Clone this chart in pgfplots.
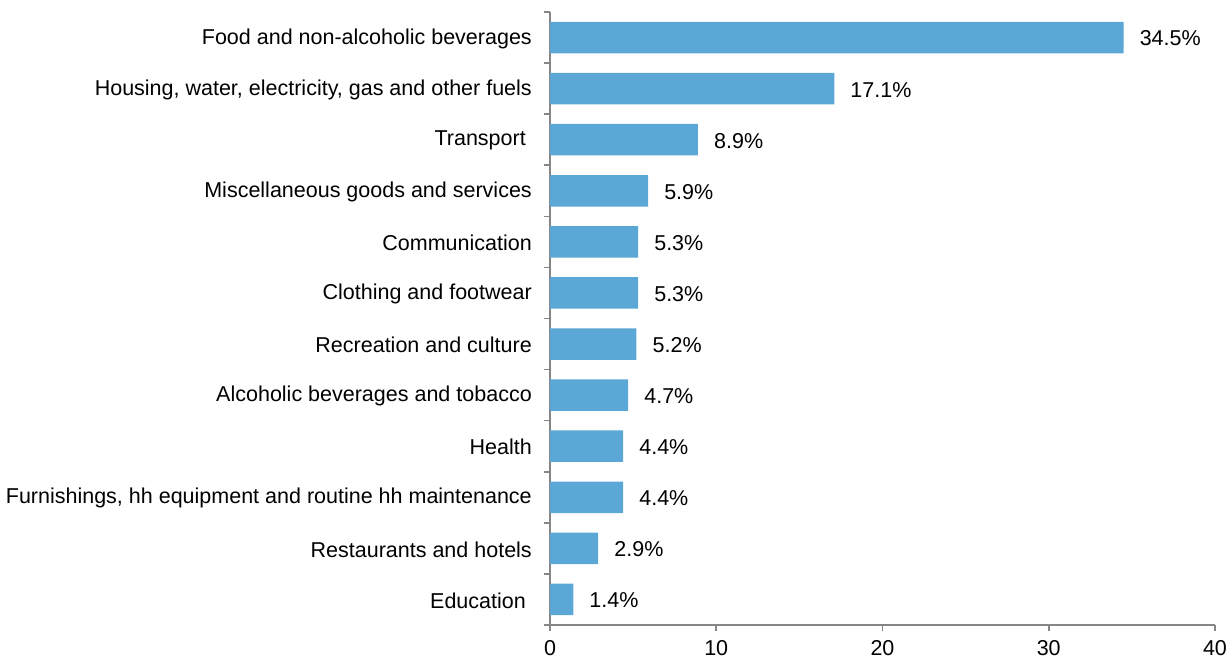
\documentclass[border=0pt]{standalone}
\usepackage{pgfplots}
\pgfplotsset{compat=1.18}
\usepackage{fontspec}
\setmainfont{Liberation Sans}
\definecolor{barblue}{RGB}{91,168,214}
\definecolor{axgray}{RGB}{134,134,134}
\begin{document}
\fontsize{21.5}{25}\selectfont
\begin{tikzpicture}
\begin{axis}[
  scale only axis, width=665pt, height=613pt,
  xbar, bar width=31.5pt,
  xmin=0, xmax=40, ymin=-0.5, ymax=11.5, y dir=reverse,
  axis x line*=bottom, axis y line*=left,
  axis line style={axgray, line width=1.6pt},
  every tick/.style={axgray, line width=1.6pt},
  tick align=outside,
  major tick length=6pt, minor tick length=6pt,
  xtick={0,10,20,30,40},
  ytick={0,...,11},
  minor ytick={-0.5,0.5,...,11.5},
  major y tick style={draw=none},
  yticklabels={Food and non-alcoholic beverages,
    {Housing, water, electricity, gas and other fuels},
    Transport\hspace*{6pt},
    Miscellaneous goods and services,
    Communication,
    Clothing and footwear,
    Recreation and culture,
    Alcoholic beverages and tobacco,
    Health,
    {Furnishings, hh equipment and routine hh maintenance},
    Restaurants and hotels,
    Education\hspace*{6pt}},
  yticklabel style={anchor=east, inner sep=0pt, xshift=-12pt, yshift=-1pt, font=\fontsize{21.5}{25}\selectfont},
  xticklabel style={anchor=north, inner sep=0pt, yshift=-9pt, font=\fontsize{21.5}{25}\selectfont},
  /pgf/number format/assume math mode=true,
  nodes near coords={\pgfmathprintnumber[fixed,fixed zerofill,precision=1]{\pgfplotspointmeta}\%},
  nodes near coords style={anchor=west, inner sep=0pt, xshift=16pt, yshift=-1pt, font=\fontsize{21.5}{25}\selectfont, text=black},
  clip=false,
]
\addplot[fill=barblue, draw=none] coordinates {
  (34.5,0) (17.1,1) (8.9,2) (5.9,3) (5.3,4) (5.3,5)
  (5.2,6) (4.7,7) (4.4,8) (4.4,9) (2.9,10) (1.4,11)
};
\end{axis}
\pgfresetboundingbox
\path ([shift={(-550pt,-35pt)}]current axis.south west) rectangle ([shift={(16pt,12pt)}]current axis.north east);
\end{tikzpicture}
\end{document}
